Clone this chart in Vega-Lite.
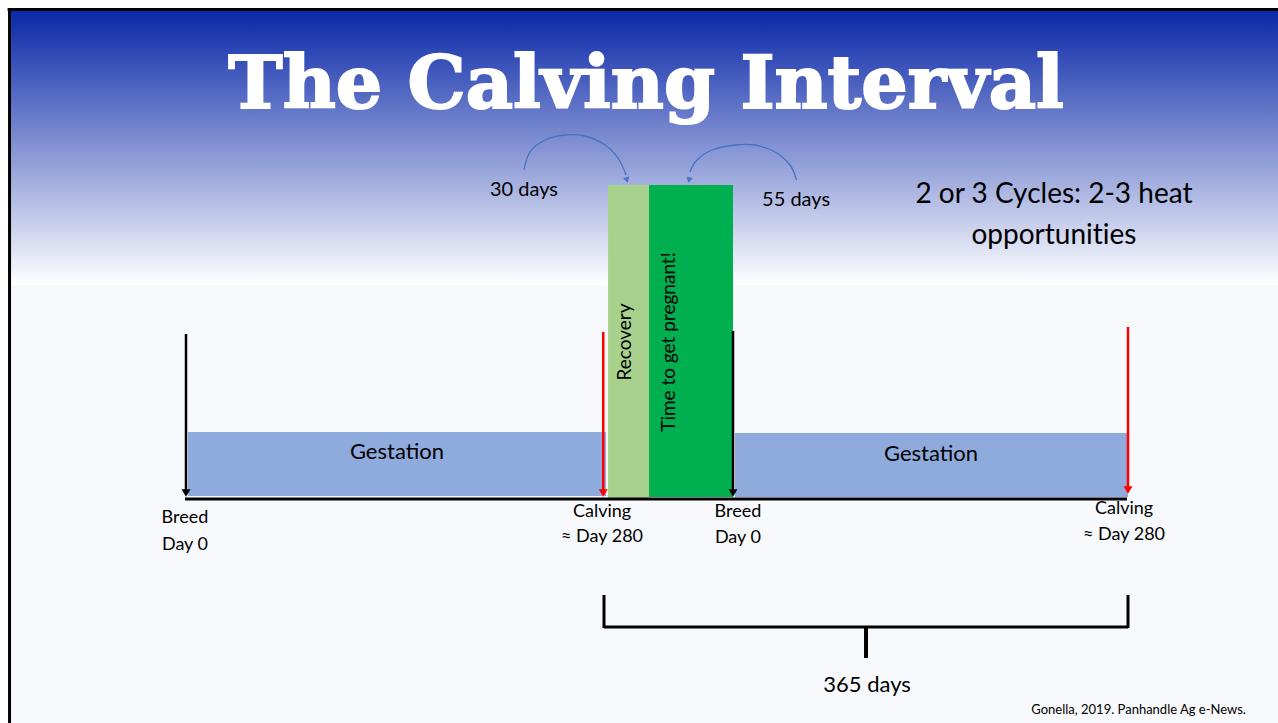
{
  "$schema": "https://vega.github.io/schema/vega-lite/v6.json",
  "width": 1278,
  "height": 723,
  "padding": 0,
  "autosize": {"type": "none"},
  "background": "#FFFFFF",
  "config": {"view": {"stroke": null}},
  "resolve": {"scale": {"color": "independent"}},
  "datasets": {
    "page": [{"x": -117.2, "x2": 752, "y": 487, "y2": -225}],
    "sky": [{"x": -117.2, "x2": 752, "y": 487, "y2": 213}],
    "borderTop": [{"x": -119.5, "x2": 752, "y": 488.5}],
    "borderLeft": [{"x": -118.2, "y": 490, "y2": -225}],
    "phases": [
      {"phase": "Gestation", "x": 1.34, "x2": 281.3, "y": 66, "y2": 2},
      {"phase": "Recovery", "x": 282.7, "x2": 310, "y": 313, "y2": 0},
      {"phase": "Time to get pregnant!", "x": 310, "x2": 365, "y": 313, "y2": 1},
      {"phase": "Gestation", "x": 366.4, "x2": 645, "y": 65, "y2": 1}
    ],
    "baseline": [{"x": -0.7, "x2": 644.3, "y": -1}],
    "events": [
      {"event": "Breed", "x": 0, "y": 164, "y2": 6},
      {"event": "Calving", "x": 279.5, "y": 166, "y2": 6},
      {"event": "Breed", "x": 365, "y": 167, "y2": 6},
      {"event": "Calving", "x": 645, "y": 171, "y2": 9}
    ],
    "eventHeads": [
      {"event": "Breed", "x": 0, "y": 5},
      {"event": "Calving", "x": 279.5, "y": 5},
      {"event": "Breed", "x": 365, "y": 5},
      {"event": "Calving", "x": 645, "y": 8}
    ],
    "arcs": [
      {"arc": "30 days", "i": 1, "x": 226.4, "y": 328},
      {"arc": "30 days", "i": 2, "x": 230.4, "y": 346},
      {"arc": "30 days", "i": 3, "x": 240.5, "y": 358},
      {"arc": "30 days", "i": 4, "x": 253.9, "y": 363},
      {"arc": "30 days", "i": 5, "x": 267.3, "y": 362},
      {"arc": "30 days", "i": 6, "x": 280.7, "y": 353},
      {"arc": "30 days", "i": 7, "x": 289.3, "y": 340},
      {"arc": "30 days", "i": 8, "x": 294.7, "y": 323},
      {"arc": "55 days", "i": 1, "x": 410, "y": 318},
      {"arc": "55 days", "i": 2, "x": 405.4, "y": 333},
      {"arc": "55 days", "i": 3, "x": 394.8, "y": 346},
      {"arc": "55 days", "i": 4, "x": 380.6, "y": 353},
      {"arc": "55 days", "i": 5, "x": 366.4, "y": 353},
      {"arc": "55 days", "i": 6, "x": 351.3, "y": 348},
      {"arc": "55 days", "i": 7, "x": 341.4, "y": 338},
      {"arc": "55 days", "i": 8, "x": 336.8, "y": 326}
    ],
    "arcHeads": [
      {"arc": "30 days", "x": 295.3, "y": 318},
      {"arc": "55 days", "x": 336.2, "y": 318}
    ],
    "bracketSides": [
      {"x": 280, "y": -97, "y2": -130},
      {"x": 645, "y": -97, "y2": -130}
    ],
    "bracketBar": [{"x": 280, "x2": 645, "y": -129}],
    "bracketTick": [{"x": 459.3, "y": -129, "y2": -160}],
    "title": [{"text": "The Calving Interval", "x": 308, "y": 390}],
    "arcLabels": [
      {"text": "30 days", "x": 226.4, "y": 308},
      {"text": "55 days", "x": 409.7, "y": 298}
    ],
    "cycles": [
      {"text": "2 or 3 Cycles: 2-3 heat", "x": 592.5, "y": 303},
      {"text": "opportunit\u200cies", "x": 592.5, "y": 262}
    ],
    "phaseLabels": [
      {"text": "Recovery", "x": 294, "y": 156},
      {"text": "Time to get pregnant!", "x": 323.1, "y": 156}
    ],
    "gestationLabels": [
      {"text": "Gestation", "x": 141.3, "y": 46},
      {"text": "Gestation", "x": 505.4, "y": 44}
    ],
    "eventLabels": [
      {"text": "Breed", "x": -0.7, "y": -20},
      {"text": "Day 0", "x": -0.7, "y": -47},
      {"text": "Calving", "x": 278.7, "y": -14},
      {"text": "≈ Day 280", "x": 278.7, "y": -39},
      {"text": "Breed", "x": 368.5, "y": -14},
      {"text": "Day 0", "x": 368.5, "y": -40},
      {"text": "Calving", "x": 642.2, "y": -11},
      {"text": "≈ Day 280", "x": 642.2, "y": -37}
    ],
    "interval": [{"text": "365 days", "x": 460, "y": -187}],
    "source": [{"text": "Gonella, 2019. Panhandle Ag e-News.", "x": 728.6, "y": -212}]
  },
  "encoding": {
    "x": {"field": "x", "type": "quantitative", "axis": null,
          "scale": {"domain": [0, 280, 310, 365, 645], "range": [186, 604, 649, 733, 1128], "nice": false, "zero": false}},
    "y": {"field": "y", "type": "quantitative", "axis": null,
          "scale": {"domain": [-225, 498], "range": [723, 0], "nice": false, "zero": false}}
  },
  "layer": [
    {"data": {"name": "page"}, "mark": {"type": "rect", "fill": "#F8F9FC"},
     "encoding": {"x2": {"field": "x2"}, "y2": {"field": "y2"}}},
    {"data": {"name": "sky"},
     "mark": {"type": "rect", "fill": {"gradient": "linear", "x1": 0, "y1": 0, "x2": 0, "y2": 1,
       "stops": [{"offset": 0, "color": "#0A28A8"}, {"offset": 1, "color": "#FFFFFF"}]}},
     "encoding": {"x2": {"field": "x2"}, "y2": {"field": "y2"}}},
    {"data": {"name": "borderTop"}, "mark": {"type": "rule", "color": "#000000", "strokeWidth": 3},
     "encoding": {"x2": {"field": "x2"}}},
    {"data": {"name": "borderLeft"}, "mark": {"type": "rule", "color": "#000000", "strokeWidth": 3},
     "encoding": {"y2": {"field": "y2"}}},
    {"data": {"name": "phases"}, "mark": {"type": "rect"},
     "encoding": {"x2": {"field": "x2"}, "y2": {"field": "y2"},
       "color": {"field": "phase", "type": "nominal", "legend": null,
         "scale": {"domain": ["Gestation", "Recovery", "Time to get pregnant!"], "range": ["#8FAADC", "#A9D18E", "#00B050"]}}}},
    {"data": {"name": "baseline"}, "mark": {"type": "rule", "color": "#000000", "strokeWidth": 3},
     "encoding": {"x2": {"field": "x2"}}},
    {"data": {"name": "events"}, "mark": {"type": "rule", "strokeWidth": 2.5},
     "encoding": {"y2": {"field": "y2"},
       "stroke": {"field": "event", "type": "nominal", "legend": null,
         "scale": {"domain": ["Breed", "Calving"], "range": ["#000000", "#FF0000"]}}}},
    {"data": {"name": "eventHeads"}, "mark": {"type": "point", "shape": "triangle-down", "filled": true, "opacity": 1, "size": 80, "strokeWidth": 0},
     "encoding": {"fill": {"field": "event", "type": "nominal", "legend": null,
         "scale": {"domain": ["Breed", "Calving"], "range": ["#000000", "#FF0000"]}}}},
    {"data": {"name": "arcs"}, "mark": {"type": "line", "color": "#4472C4", "strokeWidth": 1.3, "interpolate": "cardinal"},
     "encoding": {"detail": {"field": "arc", "type": "nominal"}, "order": {"field": "i", "type": "quantitative"}}},
    {"data": {"name": "arcHeads"}, "transform": [{"filter": "datum.arc === '30 days'"}],
     "mark": {"type": "point", "shape": "triangle-down", "filled": true, "opacity": 1, "size": 40, "color": "#4472C4", "angle": 345}},
    {"data": {"name": "arcHeads"}, "transform": [{"filter": "datum.arc === '55 days'"}],
     "mark": {"type": "point", "shape": "triangle-down", "filled": true, "opacity": 1, "size": 40, "color": "#4472C4", "angle": 15}},
    {"data": {"name": "bracketSides"}, "mark": {"type": "rule", "color": "#000000", "strokeWidth": 3},
     "encoding": {"y2": {"field": "y2"}}},
    {"data": {"name": "bracketBar"}, "mark": {"type": "rule", "color": "#000000", "strokeWidth": 3},
     "encoding": {"x2": {"field": "x2"}}},
    {"data": {"name": "bracketTick"}, "mark": {"type": "rule", "color": "#000000", "strokeWidth": 4},
     "encoding": {"y2": {"field": "y2"}}},
    {"data": {"name": "title"},
     "mark": {"type": "text", "font": "DejaVu Serif", "fontWeight": "bold", "fontSize": 73, "color": "#FFFFFF", "stroke": "#FFFFFF", "strokeWidth": 2, "align": "center", "baseline": "alphabetic"},
     "encoding": {"text": {"field": "text"}}},
    {"data": {"name": "arcLabels"},
     "mark": {"type": "text", "font": "Lato", "fontSize": 20, "color": "#000000", "align": "center", "baseline": "middle"},
     "encoding": {"text": {"field": "text"}}},
    {"data": {"name": "cycles"},
     "mark": {"type": "text", "font": "Lato", "fontSize": 28, "color": "#000000", "align": "center", "baseline": "middle"},
     "encoding": {"text": {"field": "text"}}},
    {"data": {"name": "phaseLabels"},
     "mark": {"type": "text", "font": "Lato", "fontSize": 19, "color": "#000000", "align": "center", "baseline": "middle", "angle": 270},
     "encoding": {"text": {"field": "text"}}},
    {"data": {"name": "gestationLabels"},
     "mark": {"type": "text", "font": "Lato", "fontSize": 22, "color": "#000000", "align": "center", "baseline": "middle"},
     "encoding": {"text": {"field": "text"}}},
    {"data": {"name": "eventLabels"},
     "mark": {"type": "text", "font": "Lato", "fontSize": 18, "color": "#000000", "align": "center", "baseline": "middle"},
     "encoding": {"text": {"field": "text"}}},
    {"data": {"name": "interval"},
     "mark": {"type": "text", "font": "Lato", "fontSize": 22, "color": "#000000", "align": "center", "baseline": "middle"},
     "encoding": {"text": {"field": "text"}}},
    {"data": {"name": "source"},
     "mark": {"type": "text", "font": "Lato", "fontSize": 13, "color": "#000000", "align": "right", "baseline": "middle"},
     "encoding": {"text": {"field": "text"}}}
  ]
}
